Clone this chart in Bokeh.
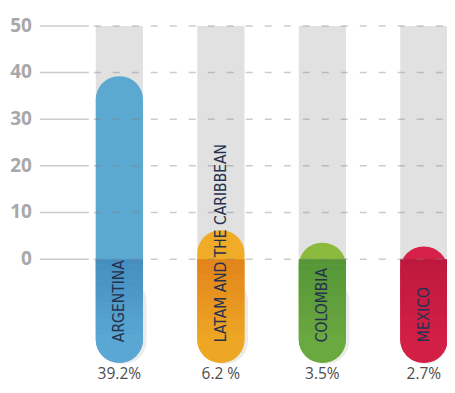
import math
from bokeh.plotting import figure
from bokeh.models import Range1d, ColumnDataSource
from bokeh.core.properties import value
from bokeh.embed import file_html
from bokeh.resources import INLINE

# ---- data ----
categories = ["ARGENTINA", "LATAM AND THE CARIBBEAN", "COLOMBIA", "MEXICO"]
shares = [39.2, 6.2, 3.5, 2.7]
share_labels = ["39.2%", "6.2 %", "3.5%", "2.7%"]
y_ticks = [0, 10, 20, 30, 40, 50]

# ---- styles ----
top_colors = ["#5BA9D0", "#F0AC26", "#8CBA3E", "#D6224A"]
body_colors = ["#5AA7D3", "#EEA625", "#6AA840", "#D21F46"]
dark_colors = ["#3F86B8", "#DD7A18", "#4E9036", "#B8173C"]

xs = list(range(len(categories)))
BAR_W = 0.465
BASE = -22.2
TRACK_TOP = max(y_ticks)
RAD = 23

p = figure(width=447, height=385, output_backend="svg", toolbar_location=None,
           x_range=Range1d(-1.171, 3.233), y_range=Range1d(-27.1, 55.46),
           x_axis_location=None, y_axis_location=None, min_border=0)
p.grid.visible = False
p.outline_line_color = None
p.background_fill_color = "white"
p.border_fill_color = "white"

# gray tracks
p.vbar(x=xs, width=BAR_W, bottom=0, top=TRACK_TOP, fill_color="#E0E1E0", line_color=None)

# shadow
p.vbar(x=[x + 0.035 for x in xs], width=BAR_W, bottom=BASE - 0.3, top=-4,
       fill_color="#000000", fill_alpha=0.08, line_color=None, border_radius=RAD)

src = ColumnDataSource(dict(x=xs, top=shares, c1=top_colors, c2=body_colors, c3=dark_colors,
                            cat=categories, lab=share_labels))

# full capsule
p.vbar(x="x", width=BAR_W, bottom=BASE, top="top", fill_color="c1", line_color=None,
       border_radius=RAD, source=src)
# lower body
p.vbar(x="x", width=BAR_W, bottom=BASE, top=0, fill_color="c2", line_color=None,
       border_radius=(0, 0, RAD, RAD), source=src)
# gradient below zero
n = 14
h = 1.15
for i in range(n):
    p.vbar(x="x", width=BAR_W, bottom=-(i + 1) * h, top=-i * h, fill_color="c3",
           fill_alpha=0.75 * (1 - i / n), line_color=None, source=src)

# gridlines
for t in y_ticks:
    p.segment(x0=[-0.784], y0=[t], x1=[-0.30], y1=[t], line_color="#7f7f7f",
              line_alpha=0.4, line_width=1.5)
    p.segment(x0=[-0.252], y0=[t], x1=[3.233], y1=[t], line_color="#7f7f7f",
              line_alpha=0.4, line_width=1.5, line_dash="7 12")

# y tick labels
p.text(x=[-0.862] * len(y_ticks), y=[t + 0.25 for t in y_ticks], text=[str(t) for t in y_ticks],
       text_align="right", text_baseline="alphabetic", text_font=value("Open Sans"),
       text_font_style="bold", text_font_size="19px", text_color="#A8A8A8")

# category labels (rotated)
p.text(x="x", y=-17.8, text="cat", angle=math.pi / 2, text_align="left", text_baseline="middle",
       text_font=value("Liberation Sans Narrow, DejaVu Sans Condensed, sans-serif"),
       text_font_size="15.5px", text_color="#26314F", source=src)

# percentage labels
p.text(x="x", y=-24.5, text="lab", text_align="center", text_baseline="middle",
       text_font=value("Open Sans"), text_font_size="15.5px", text_color="#4D4D4D", source=src)

open("out.html", "w").write(file_html(p, INLINE))
